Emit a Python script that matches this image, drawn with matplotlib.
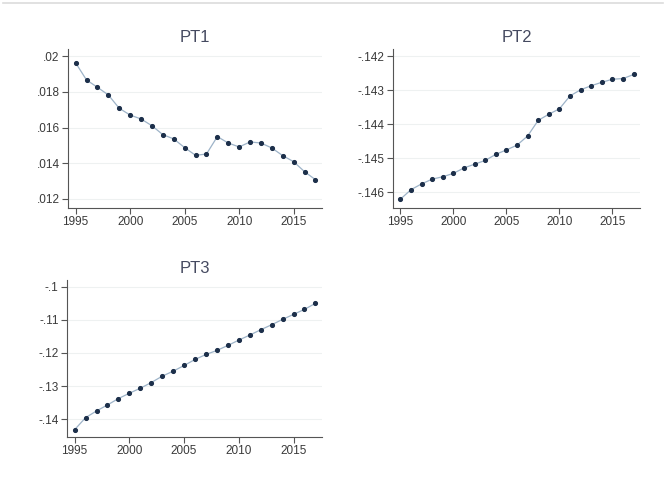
import numpy as np
import matplotlib.pyplot as plt
from matplotlib.ticker import FuncFormatter
from matplotlib.lines import Line2D

plt.rcParams['font.family'] = ['Liberation Sans', 'DejaVu Sans']

years = list(range(1995, 2018))

pt1 = [.01963, .01867, .01826, .01783, .01708, .01670, .01648, .01610,
       .01560, .01536, .01487, .01444, .01451, .01549, .01513, .01491,
       .01519, .01513, .01485, .01442, .01408, .01352, .01307]
pt2 = [-.14620, -.14592, -.14575, -.14561, -.14554, -.14544, -.14528,
       -.14517, -.14506, -.14488, -.14475, -.14461, -.14434, -.14388,
       -.14370, -.14354, -.14316, -.14298, -.14286, -.14276, -.14267,
       -.14265, -.14253]
pt3 = [-.14312, -.13950, -.13748, -.13567, -.13375, -.13214, -.13063,
       -.12892, -.12700, -.12549, -.12378, -.12196, -.12045, -.11924,
       -.11773, -.11612, -.11461, -.11300, -.11149, -.10987, -.10836,
       -.10685, -.10504]

xticks = [1995, 2000, 2005, 2010, 2015]
yticks1 = [.012, .014, .016, .018, .02]
yticks2 = [-.146, -.145, -.144, -.143, -.142]
yticks3 = [-.14, -.13, -.12, -.11, -.1]


def stata_fmt(v, pos):
    s = '{:g}'.format(round(v, 6))
    return s.replace('0.', '.')


W, H = 665, 488
fig = plt.figure(figsize=(W / 100, H / 100), dpi=100)
fig.patch.set_facecolor('white')

# thin rule along the top edge
fig.add_artist(Line2D([3 / W, 663 / W], [1 - 2.5 / H, 1 - 2.5 / H],
                      color='#dcdcdc', lw=1.2))


def panel(box, y, title, yticks, ylim):
    l, t, r, b = box
    ax = fig.add_axes([l / W, 1 - b / H, (r - l) / W, (b - t) / H])
    ax.plot(years, y, color='#9db3c8', lw=0.9, zorder=2)
    ax.plot(years, y, 'o', color='#1c2f4a', ms=2.7, zorder=3)
    ax.set_xlim(1994.3, 2017.6)
    ax.set_ylim(*ylim)
    ax.set_xticks(xticks)
    ax.set_yticks(yticks)
    ax.yaxis.set_major_formatter(FuncFormatter(stata_fmt))
    for s in ['top', 'right']:
        ax.spines[s].set_visible(False)
    for s in ['left', 'bottom']:
        ax.spines[s].set_color('#555555')
        ax.spines[s].set_linewidth(0.8)
    ax.tick_params(direction='out', length=4, width=0.8, color='#555555',
                   labelsize=8.5, labelcolor='#3a3a3a', pad=2)
    ax.grid(axis='y', color='#eef1f1', lw=0.8)
    ax.set_axisbelow(True)
    ax.set_title(title, fontsize=12, color='#454a60', pad=5)
    return ax


panel((68, 49, 322, 208), pt1, 'PT1', yticks1, (.01148, .02041))
panel((393, 49, 640, 208), pt2, 'PT2', yticks2, (-.14646, -.14178))
panel((67, 280, 322, 437), pt3, 'PT3', yticks3, (-.14534, -.0980))

fig.savefig('out.png', dpi=100, facecolor='white')
